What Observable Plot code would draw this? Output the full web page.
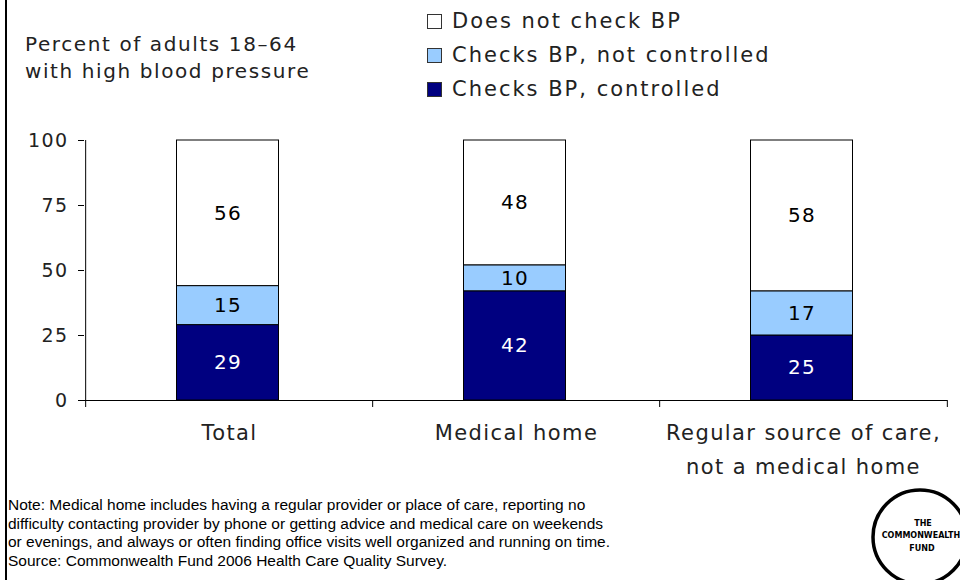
<!DOCTYPE html>
<html>
<head>
<meta charset="utf-8">
<script src="https://cdn.jsdelivr.net/npm/d3@7"></script>
<script src="https://cdn.jsdelivr.net/npm/@observablehq/plot@0.6"></script>
<style>
  html, body { margin: 0; padding: 0; background: #fff; }
  #wrap { position: relative; width: 960px; height: 580px; overflow: hidden; background: #fff; font-family: "DejaVu Sans", Verdana, sans-serif; color: #000; }
  #border { position: absolute; left: 5px; top: 0; width: 2px; height: 580px; background: #000; }
  #title { position: absolute; left: 25px; top: 31px; font-size: 20px; line-height: 27px; letter-spacing: 1.6px; color: #222; }
  #legend { position: absolute; left: 427px; top: 4px; font-size: 21px; line-height: 34px; letter-spacing: 2px; color: #222; }
  #legend .row { display: flex; align-items: center; height: 34px; }
  #legend .sw { width: 13px; height: 13px; border: 1px solid #333; margin-right: 10px; box-sizing: content-box; }
  #notes { position: absolute; left: 8px; top: 496px; font-family: "Liberation Sans", Arial, sans-serif; font-size: 15.5px; line-height: 18.5px; color: #000; }
  #chart { position: absolute; left: 0; top: 0; }
  #logo { position: absolute; left: 860px; top: 480px; }
</style>
</head>
<body>
<div id="wrap">
  <div id="chart"></div>
  <div id="border"></div>
  <div id="title">Percent of adults 18–64<br>with high blood pressure</div>
  <div id="legend"></div>
  <div id="notes">Note: Medical home includes having a regular provider or place of care, reporting no<br>difficulty contacting provider by phone or getting advice and medical care on weekends<br>or evenings, and always or often finding office visits well organized and running on time.<br>Source: Commonwealth Fund 2006 Health Care Quality Survey.</div>
  <svg id="logo" width="100" height="100">
    <circle cx="60" cy="57" r="47" fill="#fff" stroke="#000" stroke-width="3.5"></circle>
    <g font-family="DejaVu Sans, sans-serif" font-weight="bold" font-size="8" text-anchor="middle" fill="#000">
      <text x="63" y="46">THE</text>
      <text x="61" y="58">COMMONWEALTH</text>
      <text x="62" y="71">FUND</text>
    </g>
  </svg>
</div>
<script>
const categories = ["Total", "Medical home", "Regular source of care,\nnot a medical home"];
const seriesNames = ["Checks BP, controlled", "Checks BP, not controlled", "Does not check BP"];
const controlled = [29, 42, 25];
const notControlled = [15, 10, 17];
const doesNotCheck = [56, 48, 58];
const yTicks = [0, 25, 50, 75, 100];
const seriesColors = ["#000080", "#99CCFF", "#FFFFFF"];
const labelColors = ["#FFFFFF", "#000000", "#000000"];
const legendOrder = ["Does not check BP", "Checks BP, not controlled", "Checks BP, controlled"];

const seriesValues = [controlled, notControlled, doesNotCheck];
const data = [];
categories.forEach((c, i) => {
  seriesNames.forEach((s, j) => {
    data.push({category: c, series: s, value: seriesValues[j][i]});
  });
});

const width = 960, height = 490;
const marginLeft = 84, marginRight = 13, marginTop = 140, marginBottom = 90;
const step = (width - marginLeft - marginRight) / categories.length;

const chart = Plot.plot({
  width, height, marginLeft, marginRight, marginTop, marginBottom,
  style: {fontFamily: "DejaVu Sans, Verdana, sans-serif", fontSize: "20px", letterSpacing: "1.4px", color: "#000", background: "transparent", overflow: "visible"},
  x: {type: "band", domain: categories, paddingInner: 0.645, paddingOuter: 0.3225, align: 0.5, axis: null},
  y: {domain: [0, 100], axis: null},
  color: {domain: seriesNames, range: seriesColors},
  marks: [
    Plot.barY(data, Plot.stackY({x: "category", y: "value", fill: "series", stroke: "#000", strokeWidth: 1, dx: -1.5})),
    Plot.text(data, Plot.stackY({x: "category", y: "value", text: "value",
      fill: d => labelColors[seriesNames.indexOf(d.series)], fontSize: 20, dx: -1.5})),
    Plot.ruleY([0], {stroke: "#000", strokeWidth: 1}),
    Plot.ruleX([categories[0]], {x: d => d, y1: 0, y2: 100, dx: -step / 2, stroke: "#000"}),
    Plot.ruleX(categories, {x: d => d, y1: 0, y2: 0, dx: -step / 2, insetBottom: -7, stroke: "#000"}),
    Plot.ruleX([categories[categories.length - 1]], {x: d => d, y1: 0, y2: 0, dx: step / 2, insetBottom: -7, stroke: "#000"}),
    Plot.axisY({ticks: yTicks, tickSize: 6, tickPadding: 10, fontSize: 19, anchor: "left", label: null, stroke: "#000", fill: "#222"}),
    Plot.text(categories, {x: d => d, frameAnchor: "bottom", lineAnchor: "top", dy: 16, lineHeight: 1.6, fontSize: 21, fill: "#222"})
  ]
});
document.getElementById("chart").appendChild(chart);

const legend = document.getElementById("legend");
legendOrder.forEach(name => {
  const row = document.createElement("div");
  row.className = "row";
  const sw = document.createElement("span");
  sw.className = "sw";
  sw.style.background = seriesColors[seriesNames.indexOf(name)];
  const t = document.createElement("span");
  t.textContent = name;
  row.appendChild(sw);
  row.appendChild(t);
  legend.appendChild(row);
});
</script>
</body>
</html>
